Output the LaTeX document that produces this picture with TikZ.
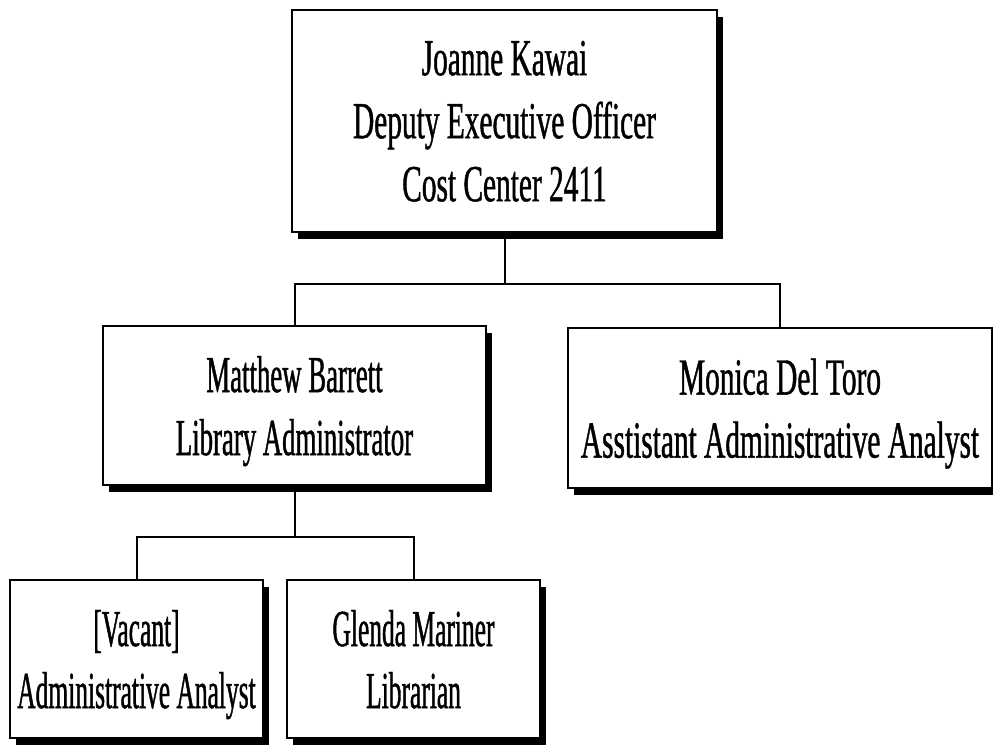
\documentclass[tikz,border=0pt]{standalone}
\usepackage{fontspec}
\usetikzlibrary{shadows}
\newfontfamily\orgfont[FakeStretch=0.565,FakeBold=0.8]{Liberation Serif}
\newfontfamily\orgfontM[FakeStretch=0.515,FakeBold=0.8]{Liberation Serif}
\newfontfamily\orgfontS[FakeStretch=0.49,FakeBold=0.8]{Liberation Serif}
\tikzset{
  orgbox/.style={draw, line width=2.3pt, fill=white, inner sep=0pt, align=center,
    text depth=0pt,
    font=\orgfont\fontsize{52}{63}\selectfont,
    drop shadow={shadow xshift=6pt, shadow yshift=-7pt, fill=black, opacity=1}},
  midfont/.style={font=\orgfontM\fontsize{52}{63}\selectfont},
  smallfont/.style={font=\orgfontS\fontsize{52}{62}\selectfont},
  link/.style={line width=2pt}
}
\begin{document}
\begin{tikzpicture}[x=1pt,y=-1pt]
\useasboundingbox (0,0) rectangle (993,748);
\clip (0,0) rectangle (993,748);
\node[orgbox, minimum width=425pt, minimum height=222pt] (top) at (504.5,121)
  {Joanne Kawai\\Deputy Executive Officer\\Cost Center 2411};
\node[orgbox, midfont, minimum width=383pt, minimum height=159pt] (mb) at (294.5,405.5)
  {Matthew Barrett\\Library Administrator};
\node[orgbox, minimum width=424pt, minimum height=160pt] (mdt) at (780,408)
  {Monica Del Toro\\Asstistant Administrative Analyst};
\node[orgbox, smallfont, minimum width=253pt, minimum height=158pt] (vac) at (136.5,659)
  {[Vacant]\\Administrative Analyst};
\node[orgbox, smallfont, minimum width=253pt, minimum height=158pt] (gm) at (413.5,659)
  {Glenda Mariner\\Librarian};
\coordinate (bar1) at (0,284);
\coordinate (bar2) at (0,537);
\draw[link] (top.south) -- (top.south |- bar1);
\draw[link] (mb.north) -- (mb.north |- bar1) -| (mdt.north);
\draw[link] (mb.south) -- (mb.south |- bar2);
\draw[link] (vac.north) -- (vac.north |- bar2) -| (gm.north);
\end{tikzpicture}
\end{document}
